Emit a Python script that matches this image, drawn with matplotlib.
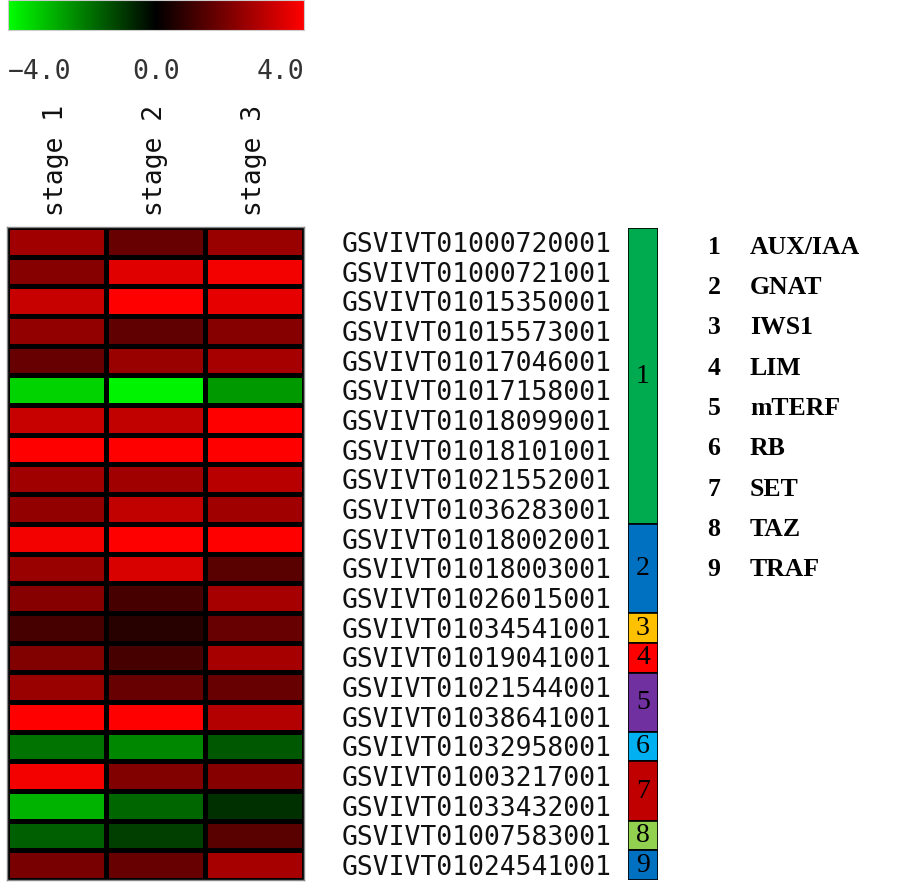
import matplotlib
matplotlib.use("Agg")
import matplotlib.pyplot as plt
import numpy as np
from matplotlib.colors import LinearSegmentedColormap

# heatmap data (log2 fold change)
genes = [
    "GSVIVT01000720001", "GSVIVT01000721001", "GSVIVT01015350001",
    "GSVIVT01015573001", "GSVIVT01017046001", "GSVIVT01017158001",
    "GSVIVT01018099001", "GSVIVT01018101001", "GSVIVT01021552001",
    "GSVIVT01036283001", "GSVIVT01018002001", "GSVIVT01018003001",
    "GSVIVT01026015001", "GSVIVT01034541001", "GSVIVT01019041001",
    "GSVIVT01021544001", "GSVIVT01038641001", "GSVIVT01032958001",
    "GSVIVT01003217001", "GSVIVT01033432001", "GSVIVT01007583001",
    "GSVIVT01024541001",
]
stages = ["stage 1", "stage 2", "stage 3"]
stage1 = [2.5, 2.1, 3.1, 2.3, 1.6, -3.3, 3.1, 4.0, 2.5, 2.3, 3.8,
          2.4, 2.1, 1.1, 2.0, 2.4, 4.0, -1.8, 3.8, -2.8, -1.5, 1.9]
stage2 = [1.6, 3.5, 4.0, 1.5, 2.4, -3.8, 3.0, 4.0, 2.5, 3.0, 4.0,
          3.4, 1.1, 0.6, 1.1, 1.6, 4.0, -2.1, 2.0, -1.6, -1.0, 1.6]
stage3 = [2.4, 3.8, 3.6, 2.1, 2.6, -2.4, 4.0, 4.0, 2.9, 2.5, 4.0,
          1.4, 2.6, 1.6, 2.6, 1.6, 2.8, -1.4, 2.1, -0.75, 1.4, 2.6]

# gene families
family_sizes = [10, 3, 1, 1, 2, 1, 2, 1, 1]
family_names = ["AUX/IAA", "GNAT", "IWS1", "LIM", "mTERF", "RB", "SET", "TAZ", "TRAF"]
family_colors = ["#00AA4E", "#0070C0", "#FFC000", "#FF0000", "#7030A0",
                 "#00B0F0", "#C00000", "#92D050", "#0070C0"]

scale_ticks = [-4.0, 0.0, 4.0]
scale_labels = ["\u22124.0", "0.0", "4.0"]

W, H = 904, 888
fig = plt.figure(figsize=(W / 100, H / 100), dpi=100)
mono = "DejaVu Sans Mono"
fs = 19
cmap = LinearSegmentedColormap.from_list("gkr", ["#00ff00", "#000000", "#ff0000"])


def frac(x0, y0, x1, y1):
    return [x0 / W, 1 - y1 / H, (x1 - x0) / W, (y1 - y0) / H]


# colour scale
ax_cb = fig.add_axes(frac(8, 0, 304, 30))
grad = np.linspace(scale_ticks[0], scale_ticks[-1], 256).reshape(1, -1)
ax_cb.imshow(grad, cmap=cmap, aspect="auto",
             extent=[scale_ticks[0], scale_ticks[-1], 0, 1],
             vmin=scale_ticks[0], vmax=scale_ticks[-1])
ax_cb.set_xticks(scale_ticks)
ax_cb.set_xticklabels(scale_labels, fontsize=fs, family=mono, color="#333333")
ax_cb.tick_params(axis="x", length=0, pad=21)
labs = ax_cb.get_xticklabels()
labs[0].set_ha("left")
labs[-1].set_ha("right")
ax_cb.set_yticks([])
for s in ax_cb.spines.values():
    s.set_color("#cccccc")
    s.set_linewidth(0.8)

# heatmap
data = np.array([stage1, stage2, stage3]).T
ax = fig.add_axes(frac(7, 227, 304, 880))
ax.pcolormesh(data, cmap=cmap, vmin=-4, vmax=4, edgecolors="black", linewidth=2.2)
ax.set_xlim(0, len(stages))
ax.set_ylim(len(genes), 0)
ax.set_xticks(np.arange(len(stages)) + 0.5)
ax.set_xticklabels(stages, rotation=90, fontsize=fs, family=mono, color="#111111")
ax.xaxis.tick_top()
ax.tick_params(axis="x", length=0, pad=8)
ax.set_yticks(np.arange(len(genes)) + 0.5)
ax.set_yticklabels(genes, fontsize=fs, family=mono, color="#111111")
ax.yaxis.tick_right()
ax.tick_params(axis="y", length=0, pad=27)
for s in ax.spines.values():
    s.set_color("#888888")
    s.set_linewidth(1)

# family bar
ax_f = fig.add_axes(frac(628, 228, 658, 880))
starts = np.concatenate([[0], np.cumsum(family_sizes)[:-1]])
ax_f.bar(0.5, family_sizes, bottom=starts, width=1, color=family_colors,
         edgecolor="black", linewidth=1.2)
for i, (b, n) in enumerate(zip(starts, family_sizes)):
    ax_f.text(0.5, b + n / 2, str(i + 1), ha="center", va="center",
              fontsize=20, family="Liberation Serif", color="black")
ax_f.set_xlim(0, 1)
ax_f.set_ylim(sum(family_sizes), 0)
ax_f.axis("off")

# family key
ax_k = fig.add_axes(frac(700, 227, 900, 590))
ax_k.set_xlim(0, 1)
ax_k.set_ylim(len(family_names) - 0.5, -0.5)
for i, name in enumerate(family_names):
    ax_k.text(0.07, i, str(i + 1), ha="center", va="center", fontsize=18.5,
              fontweight="bold", family="Liberation Serif")
    ax_k.text(0.25, i, name, ha="left", va="center", fontsize=18.5,
              fontweight="bold", family="Liberation Serif")
ax_k.axis("off")

fig.savefig("out.png", dpi=100)
